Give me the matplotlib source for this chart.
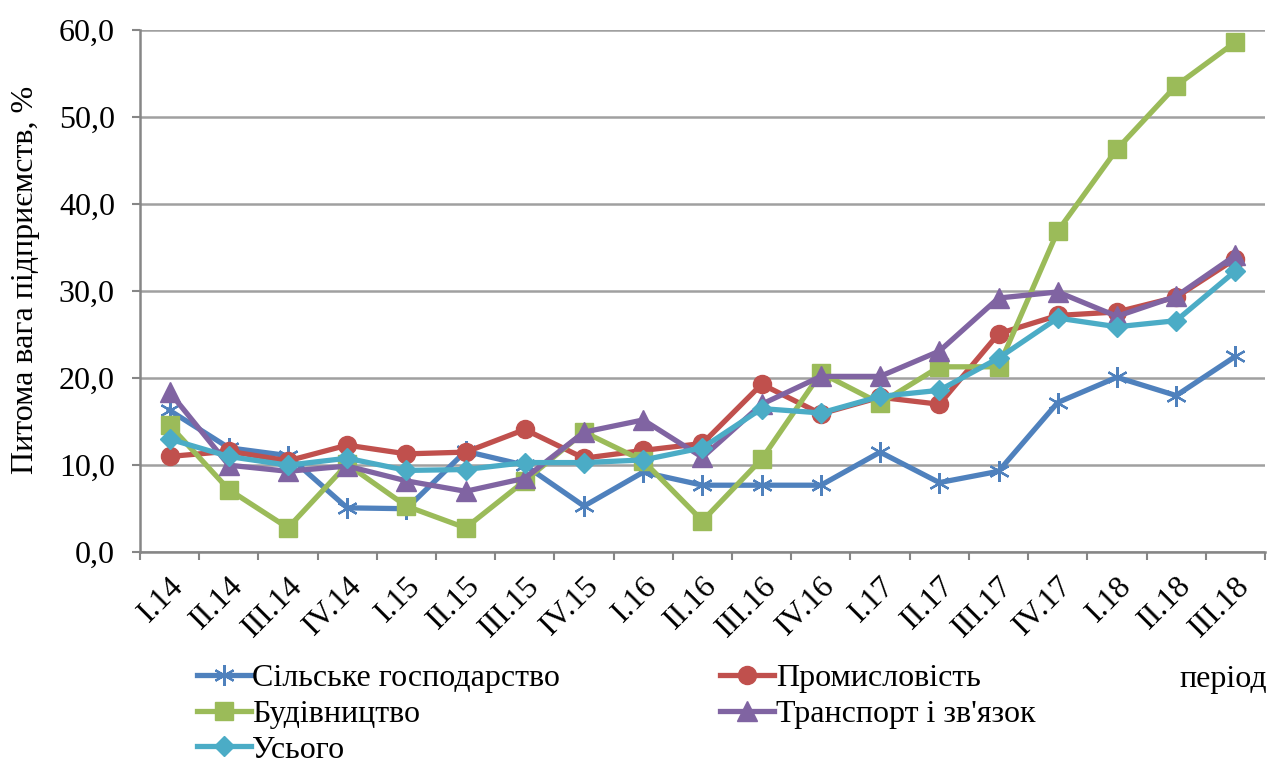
import matplotlib.pyplot as plt
import numpy as np

plt.rcParams['font.family'] = ['Liberation Serif', 'DejaVu Serif']

periods = ['I.14', 'II.14', 'III.14', 'IV.14', 'I.15', 'II.15', 'III.15', 'IV.15',
           'I.16', 'II.16', 'III.16', 'IV.16', 'I.17', 'II.17', 'III.17', 'IV.17',
           'I.18', 'II.18', 'III.18']

agri = [16.3, 12.0, 11.1, 5.1, 5.0, 11.6, 10.0, 5.3, 9.2, 7.7, 7.7, 7.7, 11.5, 8.0, 9.3, 17.2, 20.1, 18.0, 22.5]
industry = [11.0, 11.6, 10.5, 12.3, 11.3, 11.5, 14.1, 10.8, 11.7, 12.5, 19.3, 15.9, 17.8, 17.0, 25.1, 27.2, 27.6, 29.3, 33.7]
construction = [14.6, 7.2, 2.8, 10.1, 5.3, 2.8, 8.2, 13.8, 10.5, 3.6, 10.7, 20.6, 17.1, 21.3, 21.3, 36.9, 46.3, 53.6, 58.6]
transport = [18.4, 10.0, 9.3, 9.9, 8.2, 7.0, 8.5, 13.8, 15.2, 10.9, 17.0, 20.2, 20.2, 23.1, 29.2, 29.9, 27.1, 29.4, 34.1]
total = [13.0, 11.0, 10.0, 10.8, 9.4, 9.5, 10.3, 10.3, 10.6, 12.0, 16.5, 16.0, 17.9, 18.6, 22.3, 26.9, 25.9, 26.6, 32.3]

fig = plt.figure(figsize=(12.72, 7.67), dpi=100)
ax = fig.add_axes([0.110, 0.280, 0.8845, 0.681])

x = np.arange(len(periods))
lw = 3.8
l1, = ax.plot(x, agri, color='#4F81BD', lw=lw, marker=(6, 2, 0), ms=15, mew=1.6,
              label='Сільське господарство', zorder=3)
l2, = ax.plot(x, industry, color='#C0504D', lw=lw, marker='o', ms=13,
              label='Промисловість', zorder=3)
l3, = ax.plot(x, construction, color='#9BBB59', lw=lw, marker='s', ms=12.5,
              label='Будівництво', zorder=3)
l4, = ax.plot(x, transport, color='#8064A2', lw=lw, marker='^', ms=14,
              label='Транспорт і зв\'язок', zorder=3)
l5, = ax.plot(x, total, color='#4BACC6', lw=lw, marker='D', ms=10.5,
              label='Усього', zorder=3)

ax.set_xlim(-0.5, len(periods) - 0.5)
ax.set_ylim(0, 60)
ax.set_yticks(np.arange(0, 61, 10))
ax.set_yticklabels([f'{v:.1f}'.replace('.', ',') for v in range(0, 61, 10)], fontsize=23)
ax.set_xticks(x)
ax.set_xticklabels(periods, rotation=45, ha='right', rotation_mode='anchor', fontsize=23)
ax.set_xticks(np.arange(-0.5, len(periods)), minor=True)
ax.tick_params(axis='x', which='major', length=0, pad=14)
ax.tick_params(axis='x', which='minor', length=6, width=1.5, color='#868686')
ax.tick_params(axis='y', length=6, width=1.5, color='#868686', pad=12)

ax.grid(axis='y', color='#A0A0A0', lw=1.8)
ax.set_axisbelow(True)
for s in ['top', 'right']:
    ax.spines[s].set_visible(False)
for s in ['left', 'bottom']:
    ax.spines[s].set_color('#868686')
    ax.spines[s].set_linewidth(1.8)

ax.set_ylabel('Питома вага підприємств, %', fontsize=23)
ax.yaxis.set_label_coords(-0.089, 0.521)

fig.text(0.927, 0.104, 'період', fontsize=23)

# legend fills columns first, so order handles to get rows as in the source
ax.legend(handles=[l1, l3, l5, l2, l4], loc='upper left', bbox_to_anchor=(0.039, -0.189),
          ncol=2, frameon=False, fontsize=23, handlelength=1.7, handletextpad=0.05,
          columnspacing=5.0, labelspacing=0.2, borderaxespad=0)

fig.savefig('out.png', dpi=100)
